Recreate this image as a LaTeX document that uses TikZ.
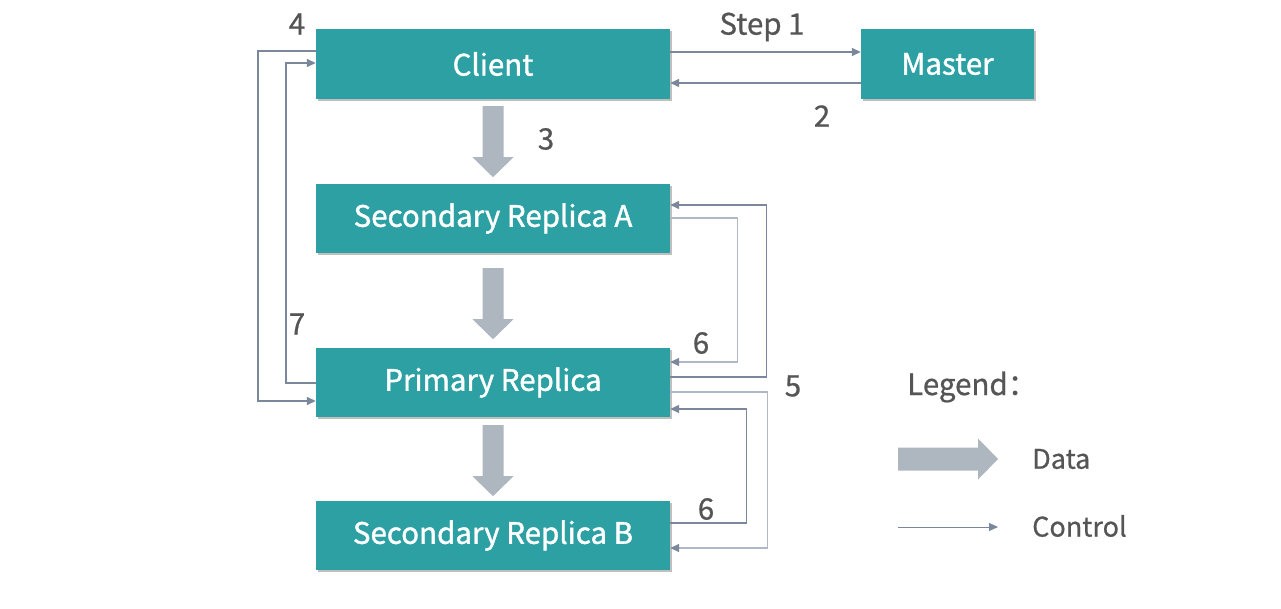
\documentclass[tikz,border=0pt]{standalone}
\usepackage{fontspec}
\newfontfamily\cjk[FakeBold=0.7]{Noto Sans CJK SC}
\newfontfamily\cjkb[FakeBold=1.3]{Noto Sans CJK SC}
\usetikzlibrary{arrows.meta,shadows}
\definecolor{teal1}{HTML}{2DA0A3}
\definecolor{datacol}{HTML}{AEB6C0}
\definecolor{ctrldark}{HTML}{7B879A}
\definecolor{ctrllight}{HTML}{AFB8C5}
\definecolor{lbl}{HTML}{555555}
\tikzset{
  box/.style={fill=teal1, text=white, font=\cjkb\fontsize{29.5}{31}\selectfont, minimum height=70pt, inner sep=0pt,
     drop shadow={shadow xshift=2pt, shadow yshift=-2pt, opacity=0.25, fill=black}},
  ctrl/.style={draw=ctrldark, line width=1.4pt, -{Triangle[length=9pt,width=8pt]}},
  ctrll/.style={draw=ctrllight, line width=1.4pt, -{Triangle[length=9pt,width=8pt,color=ctrldark,fill=ctrldark]}},
  lab/.style={text=lbl, font=\cjk\fontsize{29.5}{31}\selectfont, inner sep=0pt},
  leg/.style={text=lbl, font=\cjk\fontsize{27}{29}\selectfont, inner sep=0pt},
  dataarr/.pic={\fill[datacol] (-10.5,0) -- (10.5,0) -- (10.5,51) -- (20.5,51) -- (0,71) -- (-20.5,51) -- (-10.5,51) -- cycle;},
  datah/.pic={\fill[datacol] (0,-11.5) -- (80,-11.5) -- (80,-20.5) -- (100,0) -- (80,20.5) -- (80,11.5) -- (0,11.5) -- cycle;}
}
\begin{document}
\begin{tikzpicture}[x=1pt,y=-1pt]
\useasboundingbox (0,0) rectangle (1281,609);
\node[box, minimum width=354pt] (client) at (493,64) {Client};
\node[box, minimum width=173pt] (master) at (947.5,64) {Master};
\node[box, minimum width=354pt, minimum height=69pt] (secA) at (493,218.5) {Secondary Replica A};
\node[box, minimum width=354pt, minimum height=69pt] (primary) at (493,382.5) {Primary Replica};
\node[box, minimum width=354pt, minimum height=69pt] (secB) at (493,535.5) {Secondary Replica B};
% data arrows
\pic at ([yshift=-7pt]client.south) {dataarr};
\pic at ([yshift=-15pt]secA.south) {dataarr};
\pic at ([yshift=-8pt]primary.south) {dataarr};
% control
\draw[ctrl] ([yshift=12pt]client.east) -- ([yshift=12pt]master.west);
\draw[ctrl] ([yshift=-19pt]master.west) -- ([yshift=-19pt]client.east);
\draw[ctrl] ([yshift=13pt]client.west) -- ++(-58,0) |- ([yshift=-18.5pt]primary.west);
\draw[ctrl] ([yshift=-0.5pt]primary.west) -- ++(-30,0) |- ([yshift=1pt]client.west);
\draw[ctrl] ([yshift=5.5pt]primary.east) -- ++(96,0) |- ([yshift=13.5pt]secA.east);
\draw[ctrll] ([yshift=0.5pt]secA.east) -- ++(67,0) |- ([yshift=20.5pt]primary.east);
\draw[ctrll] ([yshift=-9.5pt]primary.east) -- ++(97,0) |- ([yshift=-12.5pt]secB.east);
\draw[ctrl] ([yshift=12.5pt]secB.east) -- ++(76,0) |- ([yshift=-26.5pt]primary.east);
% labels
\node[lab] (l1) at (762,27) {Step 1};
\node[lab] (l2) at (822,116) {2};
\node[lab] (l3) at (546,139) {3};
\node[lab] (l4) at (297,24) {4};
\node[lab] (l7) at (297,324) {7};
\node[lab] (l6a) at (701,343) {6};
\node[lab] (l5) at (793,386) {5};
\node[lab] (l6b) at (706,509) {6};
% legend
\node[lab, anchor=west] (legend) at (907,387) {Legend：};
\pic at (898,459) {datah};
\node[leg, anchor=west] (ldata) at (1032,459) {Data};
\coordinate (cs) at (898,527);
\coordinate (ce) at (998,527);
\draw[ctrl, line width=1pt] (cs) -- (ce);
\node[leg, anchor=west] (lctrl) at (1032,526) {Control};
\end{tikzpicture}
\end{document}
